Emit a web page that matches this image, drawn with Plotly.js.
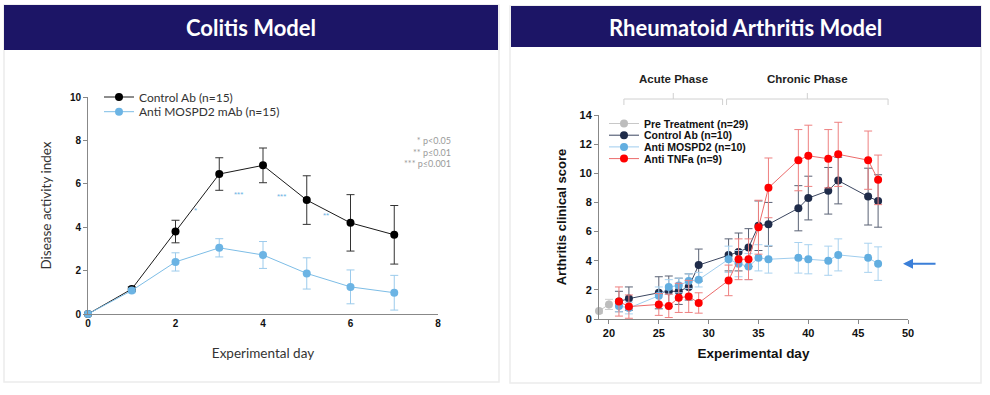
<!DOCTYPE html>
<html>
<head>
<meta charset="utf-8">
<script src="https://cdn.plot.ly/plotly-3.0.1.min.js"></script>
<style>html,body{margin:0;padding:0;background:#fff;}#chart{width:990px;height:395px;}</style>
</head>
<body>
<div id="chart"></div>
<script>
// ---------- Colitis model data ----------
const colitisDays = [0, 1, 2, 3, 4, 5, 6, 7];
const colitisControl = [0, 1.15, 3.8, 6.45, 6.85, 5.25, 4.2, 3.65];
const colitisControlErr = [0, 0.1, 0.52, 0.75, 0.8, 1.12, 1.3, 1.35];
const colitisAnti = [0, 1.08, 2.4, 3.05, 2.72, 1.87, 1.25, 0.98];
const colitisAntiErr = [0, 0.1, 0.42, 0.42, 0.62, 0.72, 0.78, 0.8];
const sigDays = [2.45, 3.43, 4.43, 5.45];
const sigLevels = [4.75, 5.5, 5.4, 4.55];
const sigMarks = ['*', '***', '***', '**'];
const pLegend = ['* p&lt;0.05', '** p\u22640.01', '*** p\u22640.001'];

// ---------- Rheumatoid arthritis data ----------
const preDays = [19, 20];
const preScore = [0.55, 1.0];
const preErr = [0.15, 0.35];
const raDays = [21, 22, 25, 26, 27, 28, 29, 32, 33, 34, 35, 36, 39, 40, 42, 43, 46, 47];
const controlScore = [1.2, 1.4, 1.8, 1.9, 1.9, 2.2, 3.7, 4.4, 4.6, 4.9, 6.4, 6.5, 7.6, 8.3, 8.8, 9.5, 8.4, 8.1];
const controlErr = [0.7, 0.8, 1.1, 1.05, 0.9, 0.9, 1.1, 1.1, 1.3, 1.3, 1.7, 1.5, 1.55, 1.5, 1.6, 1.6, 1.95, 1.8];
const mospd2Score = [0.9, 0.75, 1.6, 2.2, 2.3, 2.6, 2.7, 4.1, 3.8, 3.6, 4.2, 4.1, 4.2, 4.1, 4.0, 4.4, 4.2, 3.8];
const mospd2Err = [0.4, 0.4, 0.6, 0.5, 0.5, 0.5, 0.5, 0.9, 0.9, 0.9, 0.9, 0.95, 1.05, 1.0, 1.0, 1.1, 1.0, 1.15];
const tnfScore = [1.2, 0.85, 1.0, 0.9, 1.45, 1.55, 1.1, 2.65, 4.1, 4.1, 6.3, 9.0, 10.9, 11.2, 11.0, 11.3, 10.9, 9.55];
const tnfErr = [1.0, 0.8, 0.75, 0.8, 1.0, 1.1, 0.7, 1.05, 1.4, 1.4, 1.85, 2.05, 2.1, 2.1, 2.0, 2.2, 2.0, 1.7];
const phaseNames = ['Acute Phase', 'Chronic Phase'];
const phaseStart = [21.5, 31.8];
const phaseEnd = [31.4, 48.0];
const treatedLevel = 3.8;

const W = 990, H = 395;
const px = v => v / W;
const py = v => 1 - v / H;

function errBar(arr, color, w) {
  return {type: 'data', array: arr, visible: true, color: color, thickness: 1, width: w};
}

const traces = [
  {x: colitisDays, y: colitisControl, xaxis: 'x', yaxis: 'y', mode: 'lines+markers', name: 'Control Ab (n=15)',
   line: {color: '#1a1a1a', width: 1}, marker: {color: '#000', size: 8},
   error_y: errBar(colitisControlErr, '#333', 4), cliponaxis: false, legend: 'legend'},
  {x: colitisDays, y: colitisAnti, xaxis: 'x', yaxis: 'y', mode: 'lines+markers', name: 'Anti MOSPD2 mAb (n=15)',
   line: {color: '#7dbde6', width: 1}, marker: {color: '#6cb4e4', size: 8},
   error_y: errBar(colitisAntiErr, '#9ccbec', 4), cliponaxis: false, legend: 'legend2'},
  {x: preDays, y: preScore, xaxis: 'x2', yaxis: 'y2', mode: 'lines+markers', name: 'Pre Treatment (n=29)',
   line: {color: '#c8c8c8', width: 1}, marker: {color: '#bdbdbd', size: 8},
   error_y: errBar(preErr, '#cfcfcf', 4), cliponaxis: false, legend: 'legend3'},
  {x: raDays, y: controlScore, xaxis: 'x2', yaxis: 'y2', mode: 'lines+markers', name: 'Control Ab (n=10)',
   line: {color: '#3b4660', width: 1}, marker: {color: '#1f2c4a', size: 8},
   error_y: errBar(controlErr, '#5a6275', 4), cliponaxis: false, legend: 'legend4'},
  {x: raDays, y: mospd2Score, xaxis: 'x2', yaxis: 'y2', mode: 'lines+markers', name: 'Anti MOSPD2 (n=10)',
   line: {color: '#9fcdee', width: 1}, marker: {color: '#62aee0', size: 8},
   error_y: errBar(mospd2Err, '#a9d2ef', 4), cliponaxis: false, legend: 'legend5'},
  {x: raDays, y: tnfScore, xaxis: 'x2', yaxis: 'y2', mode: 'lines+markers', name: 'Anti TNFa (n=9)',
   line: {color: '#ec6a6a', width: 1}, marker: {color: '#ff0000', size: 8},
   error_y: errBar(tnfErr, '#ee8080', 4), cliponaxis: false, legend: 'legend6'}
];

const shapes = [
  // panels
  {type: 'rect', xref: 'paper', yref: 'paper', x0: px(4), x1: px(499), y0: py(382), y1: py(5),
   line: {color: '#ececec', width: 1.5}, fillcolor: '#fff', layer: 'below'},
  {type: 'rect', xref: 'paper', yref: 'paper', x0: px(510), x1: px(981), y0: py(383), y1: py(6),
   line: {color: '#ececec', width: 1.5}, fillcolor: '#fff', layer: 'below'},
  // header bars
  {type: 'rect', xref: 'paper', yref: 'paper', x0: px(4), x1: px(498), y0: py(50), y1: py(5),
   line: {width: 0}, fillcolor: '#1c1566', layer: 'below'},
  {type: 'rect', xref: 'paper', yref: 'paper', x0: px(511), x1: px(981), y0: py(47), y1: py(6),
   line: {width: 0}, fillcolor: '#1c1566', layer: 'below'}
];

// phase brackets (x in data coords of the RA chart)
phaseNames.forEach((n, i) => {
  const c = (phaseStart[i] + phaseEnd[i]) / 2;
  const lc = {color: '#d0d0d0', width: 1};
  shapes.push({type: 'line', xref: 'x2', yref: 'paper', x0: phaseStart[i], x1: phaseEnd[i], y0: py(99), y1: py(99), line: lc});
  shapes.push({type: 'line', xref: 'x2', yref: 'paper', x0: phaseStart[i], x1: phaseStart[i], y0: py(99), y1: py(105), line: lc});
  shapes.push({type: 'line', xref: 'x2', yref: 'paper', x0: phaseEnd[i], x1: phaseEnd[i], y0: py(99), y1: py(105), line: lc});
  shapes.push({type: 'line', xref: 'x2', yref: 'paper', x0: c, x1: c, y0: py(99), y1: py(93), line: lc});
});

const annotations = [
  {text: 'Colitis Model', xref: 'paper', yref: 'paper', x: px(251), y: py(27), xanchor: 'center', yanchor: 'middle', showarrow: false,
   font: {family: 'Lato', size: 22, color: '#fff', weight: 700}},
  {text: 'Rheumatoid Arthritis Model', xref: 'paper', yref: 'paper', x: px(745), y: py(27), xanchor: 'center', yanchor: 'middle', showarrow: false,
   font: {family: 'Lato', size: 22, color: '#fff', weight: 700}},
  {text: pLegend.join('<br>'), xref: 'paper', yref: 'paper', x: px(453), y: py(152), xanchor: 'right', yanchor: 'middle', align: 'right',
   showarrow: false, font: {family: 'Lato', size: 9, color: '#9a9a9a'}},
  {x: 49.5, y: treatedLevel, xref: 'x2', yref: 'y2', ax: 34, ay: 0, text: '', showarrow: true,
   arrowhead: 2, arrowsize: 1, arrowwidth: 2, arrowcolor: '#3b7fd8'}
];
sigDays.forEach((d, i) => annotations.push({x: d, y: sigLevels[i], xref: 'x', yref: 'y', text: sigMarks[i],
  xanchor: 'center', yanchor: 'middle', showarrow: false, font: {family: 'Arial', size: 8, color: '#6cb4e4'}}));
phaseNames.forEach((n, i) => annotations.push({text: '<b>' + n + '</b>', xref: 'x2', yref: 'paper',
  x: (phaseStart[i] + phaseEnd[i]) / 2, y: py(79), xanchor: 'center', yanchor: 'middle', showarrow: false,
  font: {family: 'Arial', size: 11.5, color: '#222'}}));

function leg(xp, yp, size, family, weight, color) {
  return {x: px(xp), y: py(yp), xanchor: 'left', yanchor: 'middle', bgcolor: 'rgba(0,0,0,0)', borderwidth: 0,
          font: {family: family, size: size, color: color, weight: weight}, itemwidth: 30};
}

const tickFontL = {family: 'Arial', size: 10, color: '#111', weight: 700};
const tickFontR = {family: 'Arial', size: 11, color: '#111', weight: 700};

const layout = {
  width: W, height: H,
  margin: {l: 0, r: 0, t: 0, b: 0},
  paper_bgcolor: '#fff', plot_bgcolor: 'rgba(0,0,0,0)',
  showlegend: true,
  xaxis: {domain: [px(88), px(438)], range: [0, 8], tickvals: [0, 2, 4, 6, 8], showgrid: false, zeroline: false,
          showline: true, linecolor: '#888', linewidth: 1, ticks: '', tickfont: tickFontL, anchor: 'y',
          title: {text: 'Experimental day', font: {family: 'Lato', size: 13.5, color: '#333'}, standoff: 20}, automargin: false},
  yaxis: {domain: [py(314), py(97)], range: [0, 10], dtick: 2, showgrid: false, zeroline: false,
          showline: true, linecolor: '#888', linewidth: 1, ticks: 'outside', ticklen: 4, tickcolor: '#888', tickfont: tickFontL, anchor: 'x',
          title: {text: 'Disease activity index', font: {family: 'Lato', size: 13.5, color: '#333'}, standoff: 15}, automargin: false},
  xaxis2: {domain: [px(599), px(908)], range: [19, 50], tick0: 20, dtick: 5, showgrid: false, zeroline: false,
           showline: true, linecolor: '#888', linewidth: 1, ticks: 'outside', ticklen: 4, tickcolor: '#888', tickfont: tickFontR, anchor: 'y2',
           title: {text: '<b>Experimental day</b>', font: {family: 'Arial', size: 13.5, color: '#111'}, standoff: 10}, automargin: false},
  yaxis2: {domain: [py(319), py(115)], range: [0, 14], dtick: 2, showgrid: false, zeroline: false,
           showline: true, linecolor: '#888', linewidth: 1, ticks: 'outside', ticklen: 4, tickcolor: '#888', tickfont: tickFontR, anchor: 'x2',
           title: {text: '<b>Arthritis clinical score</b>', font: {family: 'Arial', size: 13, color: '#111'}, standoff: 9}, automargin: false},
  legend: leg(99, 97, 12, 'Lato', 400, '#333'),
  legend2: leg(99, 111.7, 12, 'Lato', 400, '#333'),
  legend3: leg(604, 123.5, 10.5, 'Arial', 700, '#111'),
  legend4: leg(604, 135.2, 10.5, 'Arial', 700, '#111'),
  legend5: leg(604, 146.9, 10.5, 'Arial', 700, '#111'),
  legend6: leg(604, 158.6, 10.5, 'Arial', 700, '#111'),
  shapes: shapes,
  annotations: annotations
};

Plotly.newPlot('chart', traces, layout, {displayModeBar: false, staticPlot: true});
</script>
</body>
</html>
